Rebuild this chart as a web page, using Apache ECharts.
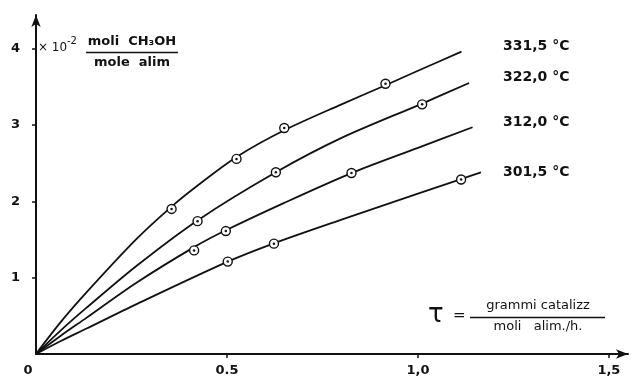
<!DOCTYPE html>
<html>
<head>
<meta charset="utf-8">
<script src="https://cdn.jsdelivr.net/npm/echarts@6/dist/echarts.min.js"></script>
<style>
html,body{margin:0;padding:0;background:#fff;}
#chart{width:633px;height:377px;}
</style>
</head>
<body>
<div id="chart"></div>
<script>
// ---- data ----
var seriesNames = ['331,5 °C', '322,0 °C', '312,0 °C', '301,5 °C'];

var curve331 = [[0,0],[0.065,0.42],[0.131,0.80],[0.262,1.50],[0.355,1.93],[0.419,2.19],[0.525,2.58],[0.65,2.93],[0.8,3.27],[0.915,3.52],[1.0,3.71],[1.114,3.96]];
var curve322 = [[0,0],[0.065,0.31],[0.131,0.60],[0.262,1.15],[0.423,1.75],[0.628,2.38],[0.8,2.83],[1.011,3.28],[1.134,3.55]];
var curve312 = [[0,0],[0.065,0.24],[0.131,0.47],[0.262,0.93],[0.414,1.40],[0.497,1.62],[0.65,1.98],[0.826,2.37],[1.0,2.70],[1.143,2.97]];
var curve301 = [[0,0],[0.065,0.17],[0.131,0.33],[0.262,0.65],[0.502,1.21],[0.623,1.45],[0.8,1.76],[1.0,2.10],[1.113,2.29],[1.165,2.38]];

var pts331 = [[0.355,1.90],[0.525,2.555],[0.65,2.96],[0.915,3.54]];
var pts322 = [[0.423,1.74],[0.628,2.38],[1.011,3.27]];
var pts312 = [[0.414,1.357],[0.497,1.61],[0.826,2.37]];
var pts301 = [[0.502,1.21],[0.623,1.445],[1.113,2.285]];

var xTickValues = [0, 0.5, 1, 1.5];
var xTickLabels = ['0', '0.5', '1,0', '1,5'];
var yTickValues = [1, 2, 3, 4];
var yTickLabels = ['1', '2', '3', '4'];

// ---- chart ----
var INK = '#111';
var FONT = 'DejaVu Sans';
var curves = [curve331, curve322, curve312, curve301];
var points = [pts331, pts322, pts312, pts301];
var labelTops = [39, 70, 115, 165];

var series = [];
curves.forEach(function (c, i) {
  series.push({
    type: 'line', name: seriesNames[i], data: c, smooth: 0.3,
    showSymbol: false, silent: true, z: 2,
    lineStyle: { color: INK, width: 1.8 }
  });
});
points.forEach(function (p, i) {
  series.push({
    type: 'scatter', data: p, symbol: 'circle', symbolSize: 9, z: 3, silent: true,
    itemStyle: { color: '#fff', borderColor: INK, borderWidth: 1.4, opacity: 1 }
  });
  series.push({
    type: 'scatter', data: p, symbol: 'circle', symbolSize: 2.5, z: 4, silent: true,
    itemStyle: { color: INK, opacity: 1 }
  });
});

function txt(x, y, text, font, align) {
  return { type: 'text', x: x, y: y, z: 10,
    style: { text: text, font: font, fill: INK, align: align || 'left', verticalAlign: 'top' } };
}
var graphics = [];
seriesNames.forEach(function (n, i) {
  graphics.push(txt(503, labelTops[i], n, 'bold 14px "' + FONT + '"'));
});
// y-axis unit title
graphics.push(txt(38, 42, '× 10', '12px "' + FONT + '"'));
graphics.push(txt(67, 36, '-2', '10px "' + FONT + '"'));
graphics.push(txt(132, 35, 'moli  CH₃OH', 'bold 13px "' + FONT + '"', 'center'));
graphics.push({ type: 'line', shape: { x1: 86, y1: 52.5, x2: 178, y2: 52.5 }, style: { stroke: INK, lineWidth: 1.3 } });
graphics.push(txt(132, 56, 'mole  alim', 'bold 13px "' + FONT + '"', 'center'));
// x-axis variable definition
graphics.push(txt(428, 302, 'τ', '26px "' + FONT + '"'));
graphics.push(txt(453, 309, '=', '15px "' + FONT + '"'));
graphics.push(txt(538, 299, 'grammi catalizz', '13px "' + FONT + '"', 'center'));
graphics.push({ type: 'line', shape: { x1: 470, y1: 317.5, x2: 605, y2: 317.5 }, style: { stroke: INK, lineWidth: 1.3 } });
graphics.push(txt(538, 320, 'moli   alim./h.', '13px "' + FONT + '"', 'center'));

var chart = echarts.init(document.getElementById('chart'), null, { renderer: 'canvas' });
chart.setOption({
  animation: false,
  backgroundColor: '#fff',
  grid: { left: 36, right: 5, top: 15, bottom: 22.5, containLabel: false },
  xAxis: {
    type: 'value', min: 0, max: 1.55, interval: 0.5,
    axisLine: { show: true, symbol: ['none', 'arrow'], symbolSize: [7, 12], lineStyle: { color: INK, width: 2 } },
    axisTick: { show: true, customValues: [0.5, 1, 1.5], length: 4, lineStyle: { color: INK, width: 1.5 } },
    axisLabel: {
      customValues: xTickValues, margin: 10, color: INK, fontFamily: FONT, fontSize: 13, fontWeight: 'bold',
      formatter: function (v) {
        var i = xTickValues.indexOf(v);
        if (i < 0) return '';
        return i === 0 ? '{o|' + xTickLabels[i] + '}' : xTickLabels[i];
      },
      rich: { o: { padding: [0, 16, 0, 0], color: INK, fontFamily: FONT, fontSize: 13, fontWeight: 'bold' } }
    },
    splitLine: { show: false }
  },
  yAxis: {
    type: 'value', min: 0, max: 4.44, interval: 1,
    axisLine: { show: true, symbol: ['none', 'arrow'], symbolSize: [7, 12], lineStyle: { color: INK, width: 2 } },
    axisTick: { show: true, customValues: yTickValues, length: 4, lineStyle: { color: INK, width: 1.5 } },
    axisLabel: {
      customValues: yTickValues, margin: 16, color: INK, fontFamily: FONT, fontSize: 13, fontWeight: 'bold',
      formatter: function (v) { var i = yTickValues.indexOf(v); return i < 0 ? '' : yTickLabels[i]; }
    },
    splitLine: { show: false }
  },
  series: series,
  graphic: graphics
});
</script>
</body>
</html>
